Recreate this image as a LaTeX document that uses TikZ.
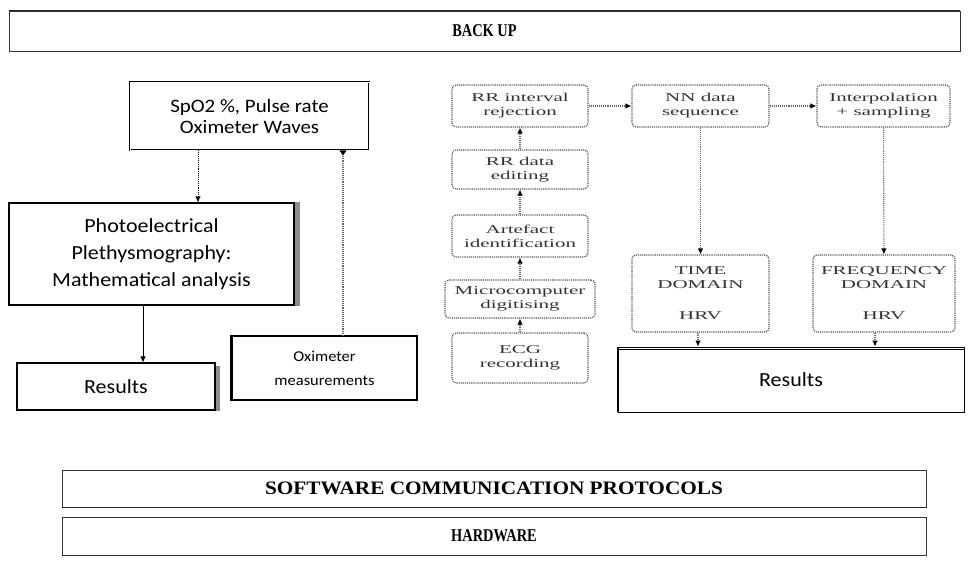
\documentclass[tikz,border=0pt]{standalone}
\usepackage{fontspec}
\setmainfont{Liberation Serif}
\newfontfamily\calfont[FakeStretch=1.1]{Carlito}
\newfontfamily\widefont[FakeStretch=1.75]{Liberation Serif}
\newfontfamily\narrowhead[FakeStretch=0.8]{Liberation Serif}
\newfontfamily\broadhead[FakeStretch=1.12]{Liberation Serif}
\usetikzlibrary{arrows.meta}

\begin{document}
\begin{tikzpicture}[x=1pt,y=-1pt,
  layer/.style={draw=black!80, line width=0.9pt, inner sep=0pt,
    font=\narrowhead\bfseries\fontsize{18}{20}\selectfont},
  sbox/.style={draw=black, line width=1.1pt, inner sep=0pt, align=center,
    font=\calfont\fontsize{20}{27}\selectfont},
  rbox/.style={draw=black!70, densely dotted, line width=1.1pt, rounded corners=4pt,
    inner sep=0pt, align=center, text=black!80,
    font=\widefont\fontsize{12}{14}\selectfont},
  arr/.style={-{Latex[length=6pt,width=5.5pt]}, line width=0.9pt},
  darr/.style={draw=black!60, densely dotted, line width=1.1pt,
    -{Latex[length=6pt,width=5.5pt,fill=black,color=black]}},
  shadowbar/.style={fill=black!45}
]
\useasboundingbox (0,0) rectangle (969,574);

% system layers
\node[layer, minimum width=951pt, minimum height=40pt] (backup) at (484.5,31) {BACK UP};
\node[layer, minimum width=864pt, minimum height=37pt,
  font=\broadhead\bfseries\fontsize{19}{21}\selectfont] (soft) at (494,488.5)
  {SOFTWARE COMMUNICATION PROTOCOLS};
\node[layer, minimum width=864pt, minimum height=38pt] (hard) at (494,536) {HARDWARE};
\draw[line width=1.6pt, black!85] (backup.north west) -- (backup.north east);
\draw[line width=1.4pt, black!85] (soft.south west) -- (soft.south east);

% oximeter branch
\node[sbox, double, double distance=0.8pt, line width=0.8pt,
  minimum width=239pt, minimum height=68pt, font=\calfont\fontsize{19}{21}\selectfont]
  (spo) at (249.5,116) {SpO2 \%, Pulse rate\\Oximeter Waves};
\node[sbox, minimum width=285pt, minimum height=102pt] (photo) at (151.5,254)
  {Photoelectrical\\Plethysmography:\\Mathematical analysis};
\node[sbox, minimum width=198pt, minimum height=47pt, text depth=0pt] (resL) at (116,386.5) {Results};
\node[sbox, minimum width=185pt, minimum height=64pt, font=\calfont\fontsize{15}{24}\selectfont]
  (oxi) at (324.5,368) {Oximeter\\measurements};

\fill[shadowbar] (photo.north east) rectangle ([xshift=5pt]photo.south east);
\fill[shadowbar] ([yshift=-4pt]resL.north east) rectangle ([xshift=4pt]resL.south east);
\draw[line width=2pt] (oxi.north west) -- (oxi.south west);

% ECG processing chain
\node[rbox, minimum width=136pt, minimum height=42pt] (rrint) at (520,106) {RR interval\\rejection};
\node[rbox, minimum width=136pt, minimum height=39pt] (rrdat) at (520,169.5) {RR data\\editing};
\node[rbox, minimum width=136pt, minimum height=42pt] (arte) at (520,236) {Artefact\\identification};
\node[rbox, minimum width=150pt, minimum height=38pt] (micro) at (520,299) {Microcomputer\\digitising};
\node[rbox, minimum width=136pt, minimum height=50pt] (ecg) at (520,358) {ECG\\recording};

\node[rbox, minimum width=137pt, minimum height=42pt] (nn) at (700.5,106) {NN data\\sequence};
\node[rbox, minimum width=133pt, minimum height=42pt] (interp) at (883.5,106) {Interpolation\\+ sampling};
\node[rbox, minimum width=137pt, minimum height=77pt] (time) at (700.5,293.5)
  {TIME\\DOMAIN\\[17pt]HRV};
\node[rbox, minimum width=142pt, minimum height=77pt] (freq) at (884,293.5)
  {FREQUENCY\\DOMAIN\\[17pt]HRV};
\node[sbox, line width=0.8pt, minimum width=346pt, minimum height=65pt, text depth=0pt]
  (resR) at (791,379.5) {Results};
\draw[line width=2pt] (resR.north west) -- (resR.south west);
\draw[line width=0.6pt] ([yshift=-2.5pt]resR.north west) -- ([yshift=-2.5pt]resR.north east);

% connector columns
\coordinate (c1) at (198,0);
\coordinate (c2) at (143,0);
\coordinate (c3) at (343,0);
\coordinate (c4) at (698,0);
\coordinate (c5) at (875,0);

% connectors
\draw[arr, densely dotted] (spo.south -| c1) -- (photo.north -| c1);
\draw[arr] (photo.south -| c2) -- (resL.north -| c2);
\draw[draw=black!60, densely dotted, line width=1.1pt,
  {Triangle[reversed,length=5pt,width=7pt,fill=black,color=black]}-]
  (spo.south -| c3) -- (oxi.north -| c3);

\draw[darr] (ecg) -- (micro);
\draw[darr] (micro) -- (arte);
\draw[darr] (arte) -- (rrdat);
\draw[darr] (rrdat) -- (rrint);
\draw[darr] (rrint) -- (nn);
\draw[darr] (nn) -- (interp);
\draw[darr] (nn) -- (time);
\draw[darr] (interp) -- (freq);
\draw[darr] (time.south -| c4) -- (resR.north -| c4);
\draw[darr] (freq.south -| c5) -- (resR.north -| c5);
\end{tikzpicture}
\end{document}
